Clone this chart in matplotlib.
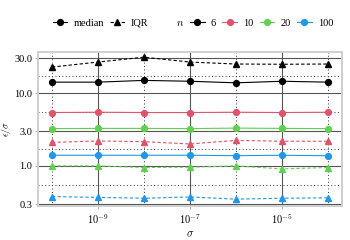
import numpy as np
import matplotlib.pyplot as plt
from matplotlib.lines import Line2D

plt.rcParams['font.family'] = ['Liberation Serif', 'DejaVu Serif']
plt.rcParams['mathtext.fontset'] = 'cm'

sigma = [1e-10, 1e-9, 1e-8, 1e-7, 1e-6, 1e-5, 1e-4]
n_vals = ['6', '10', '20', '100']
colors = ['black', '#DF536B', '#61D04F', '#2297E6']

median = {
    '6':   [14.1, 14.1, 14.9, 14.5, 13.8, 14.5, 14.1],
    '10':  [5.4, 5.45, 5.4, 5.4, 5.45, 5.4, 5.45],
    '20':  [3.25, 3.27, 3.27, 3.25, 3.3, 3.27, 3.25],
    '100': [1.4, 1.4, 1.4, 1.4, 1.38, 1.4, 1.38],
}
iqr = {
    '6':   [22.7, 26.6, 31.0, 26.6, 25.0, 24.8, 25.0],
    '10':  [2.1, 2.2, 2.15, 2.0, 2.24, 2.18, 2.18],
    '20':  [1.0, 1.0, 0.95, 0.96, 1.0, 0.91, 0.95],
    '100': [0.38, 0.37, 0.36, 0.375, 0.35, 0.36, 0.365],
}

yticks = [0.3, 1.0, 3.0, 10.0, 30.0]
xticks = [1e-9, 1e-7, 1e-5]
xminor = [1e-10, 1e-8, 1e-6, 1e-4]

fig = plt.figure(figsize=(3.5, 2.4), dpi=100)
ax = fig.add_axes([0.1094, 0.1417, 0.8668, 0.6429])
ax.set_xscale('log')
ax.set_yscale('log')

for n, c in zip(n_vals, colors):
    ax.plot(sigma, median[n], color=c, lw=0.8, marker='o', ms=4.2, zorder=3)
    ax.plot(sigma, iqr[n], color=c, lw=0.8, ls=(0, (3, 2)), marker='^', ms=4.8, zorder=3)

ax.set_xlim(10**-10.298, 10**-3.702)
ax.set_ylim(10**-0.55, 10**1.567)

ax.set_xticks(xticks)
ax.set_xticklabels([r'$10^{-9}$', r'$10^{-7}$', r'$10^{-5}$'])
ax.set_xticks(xminor, minor=True)
ax.set_yticks(yticks)
ax.set_yticklabels(['%.1f' % v for v in yticks])
yminor = [np.sqrt(yticks[i] * yticks[i + 1]) for i in range(len(yticks) - 1)]
ax.set_yticks(yminor, minor=True)
ax.set_yticklabels([], minor=True)
ax.set_xticklabels([], minor=True)

ax.grid(True, which='major', color='#555555', lw=0.8, ls='-')
ax.grid(True, which='minor', color='#333333', lw=0.7, ls=(0, (1, 2.5)))
ax.set_axisbelow(True)

ax.tick_params(which='major', labelsize=7.5, length=2.5, width=0.6, color='#999999', pad=2)
ax.tick_params(which='minor', length=0)
for s in ax.spines.values():
    s.set_color('#cfcfcf')
    s.set_linewidth(1.4)

ax.set_xlabel(r'$\sigma$', fontsize=8, labelpad=3)
ax.set_ylabel(r'$\epsilon/\sigma$', fontsize=7)
ax.yaxis.set_label_coords(-0.085, 0.5)

handles = [
    Line2D([], [], color='black', lw=0.8, marker='o', ms=4.2),
    Line2D([], [], color='black', lw=0.8, ls=(0, (3, 2)), marker='^', ms=4.8),
    Line2D([], [], color='none'),
]
labels = ['median', 'IQR', r'$n$']
for n, c in zip(n_vals, colors):
    handles.append(Line2D([], [], color=c, lw=0.8, marker='o', ms=4.2))
    labels.append(n)

fig.legend(handles, labels, loc='center', bbox_to_anchor=(0.551, 0.904), ncol=7,
           frameon=False, fontsize=7.5, handlelength=1.4, handletextpad=0.6,
           columnspacing=0.6, borderaxespad=0)

fig.savefig('out.png', dpi=100)
